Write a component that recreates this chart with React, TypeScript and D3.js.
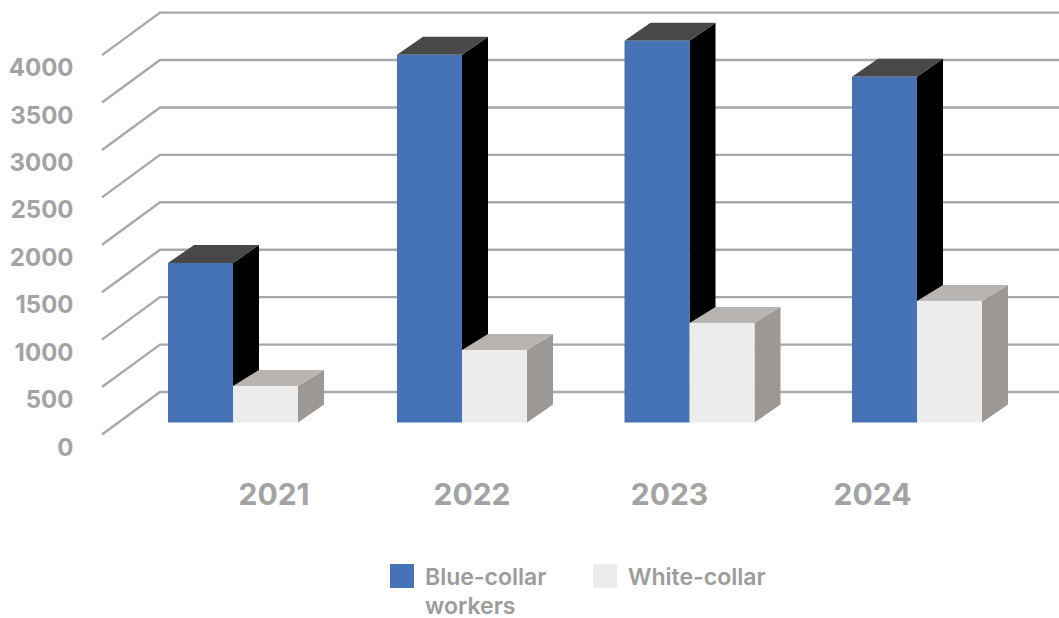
import React from "react";
import * as d3 from "d3";

const years = ["2021", "2022", "2023", "2024"];
const blueCollar = [1682, 3877, 4024, 3645];
const whiteCollar = [385, 765, 1050, 1282];
const yTicks = [0, 500, 1000, 1500, 2000, 2500, 3000, 3500, 4000];
const legendLabels = [["Blue-collar", "workers"], ["White-collar"]];

const WIDTH = 1059;
const HEIGHT = 618;
const BLUE = { front: "#4672b6", top: "#484848", side: "#000000", lift: 18 };
const PALE = { front: "#ececec", top: "#b8b4b2", side: "#9c9896", lift: 16 };
const GRID = "#a8a8a8";
const TEXT = "#a3a3a3";
const LEGEND_TEXT = "#9c9c9c";

// Value-to-height scale shared by every plane; only the baseline differs.
const height = d3.scaleLinear().domain([0, 4000]).range([0, 379.4]);
const wallY = (v: number) => 392 - height(v);
const wallLeft = 160;
const floorDx = -58;
const floorDy = 42.5;
const barBase = 422.5;
const depthX = 26;
const depthY = 18;

const groupX = d3.scaleOrdinal<string, number>().domain(years).range([168, 397, 624.5, 852]);
const barWidth = 65;
const labelX = d3.scaleOrdinal<string, number>().domain(years).range([274, 472, 669.5, 872.5]);

const line = d3.line();

function Box({ x, value, colors }: { x: number; value: number; colors: typeof BLUE }) {
  const top = barBase - height(value);
  const x1 = x + barWidth;
  const poly = (pts: [number, number][]) => line(pts)! + "Z";
  return (
    <g>
      <path
        d={poly([
          [x1, top],
          [x1 + depthX, top - colors.lift],
          [x1 + depthX, barBase - depthY],
          [x1, barBase],
        ])}
        fill={colors.side}
      />
      <path
        d={poly([
          [x, top],
          [x + depthX, top - colors.lift],
          [x1 + depthX, top - colors.lift],
          [x1, top],
        ])}
        fill={colors.top}
      />
      <rect x={x} y={top} width={barWidth} height={height(value)} fill={colors.front} />
    </g>
  );
}

export default function App() {
  return (
    <svg
      width={WIDTH}
      height={HEIGHT}
      style={{ position: "absolute", left: 0, top: 0, background: "#fff" }}
    >
      {yTicks.map((t) => (
        <path
          key={t}
          d={line([
            [wallLeft + floorDx, wallY(t) + floorDy],
            [wallLeft, wallY(t)],
            [WIDTH, wallY(t)],
          ])!}
          fill="none"
          stroke={GRID}
          strokeWidth={2.4}
        />
      ))}
      {yTicks.map((t) => (
        <text
          key={t}
          x={73.5}
          y={wallY(t) + floorDy + 21}
          textAnchor="end"
          fontFamily="Inter"
          fontWeight={700}
          fontSize={24}
          fill={TEXT}
        >
          {t}
        </text>
      ))}
      {years.map((y, i) => (
        <g key={y}>
          <Box x={groupX(y)} value={blueCollar[i]} colors={BLUE} />
          <Box x={groupX(y) + barWidth} value={whiteCollar[i]} colors={PALE} />
        </g>
      ))}
      {years.map((y) => (
        <text
          key={y}
          x={labelX(y)}
          y={505}
          textAnchor="middle"
          fontFamily="Inter"
          fontWeight={700}
          fontSize={30}
          fill={TEXT}
        >
          {y}
        </text>
      ))}
      <rect x={390} y={564} width={24} height={24} fill={BLUE.front} />
      <rect x={593} y={564} width={24} height={24} fill={PALE.front} />
      {legendLabels.map((lines, i) => (
        <text
          key={i}
          x={i === 0 ? 425 : 628}
          y={585}
          fontFamily="Inter"
          fontWeight={600}
          fontSize={23}
          fill={LEGEND_TEXT}
        >
          {lines.map((l, j) => (
            <tspan key={l} x={i === 0 ? 425 : 628} dy={j === 0 ? 0 : 29}>
              {l}
            </tspan>
          ))}
        </text>
      ))}
    </svg>
  );
}
